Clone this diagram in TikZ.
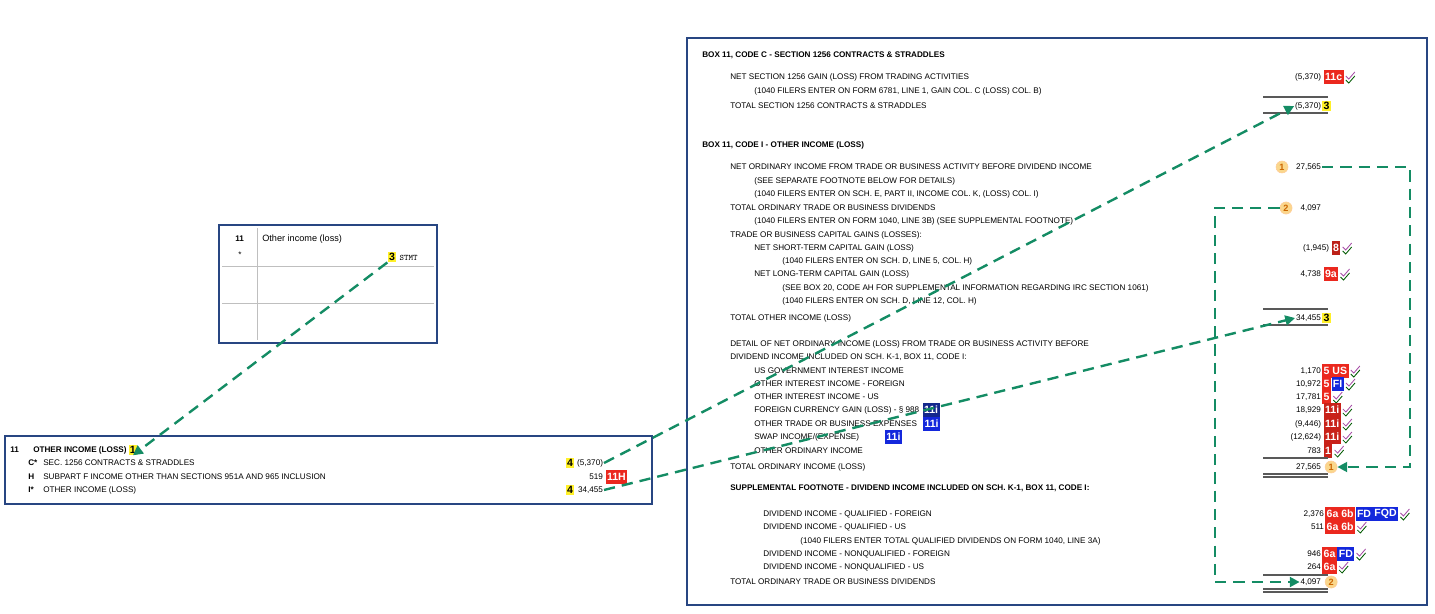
\documentclass[tikz,border=0pt]{standalone}
\usepackage{fontspec}
\setmainfont{Liberation Sans}
\usetikzlibrary{positioning,arrows.meta,calc}
\definecolor{frameblue}{RGB}{40,70,130}
\definecolor{flowgreen}{RGB}{20,140,100}
\definecolor{bred}{RGB}{235,40,30}
\definecolor{bblue}{RGB}{20,40,220}
\definecolor{bnavy}{RGB}{20,40,140}
\definecolor{hiyel}{RGB}{255,240,40}
\definecolor{circ}{RGB}{250,215,140}

\begin{document}
\begin{tikzpicture}[x=0.025cm,y=-0.025cm,
  txt/.style={anchor=west,inner sep=0pt,font=\fontsize{5.8}{6}\selectfont},
  hd/.style={txt,font=\fontsize{5.8}{6}\selectfont\bfseries},
  num/.style={anchor=east,inner sep=0.5pt,font=\fontsize{5.8}{6}\selectfont},
  badge/.style={fill=bred,text=white,inner sep=1pt,minimum height=9.5pt,font=\fontsize{7.5}{7.5}\selectfont\bfseries},
  bbadge/.style={badge,fill=bblue},
  nbadge/.style={badge,fill=bnavy},
  yel/.style={fill=hiyel,inner sep=1pt,font=\fontsize{7.5}{7.5}\selectfont\bfseries},
  rnd/.style={circle,fill=circ,draw=orange!40,text=orange!80!black,inner sep=1pt,font=\fontsize{6.5}{6.5}\selectfont\bfseries},
  flow/.style={flowgreen,line width=1.7pt,dash pattern=on 8pt off 5pt},
  tip/.style={-{Triangle[length=7pt,width=7pt]}},
  ul/.style={gray!70!black,line width=1pt}]
\useasboundingbox (0,0) rectangle (1435,613);
\newcommand\chk[1]{\draw[violet!70,line width=0.6pt] ($(#1)+(2,-1)$) -- ++(3,3) -- ++(6,-7);
  \draw[green!35!black,line width=0.6pt] ($(#1)+(2,3)$) -- ++(3,3) -- ++(6,-7);}

% small form box
\draw[frameblue,line width=1.5pt] (219,225) rectangle (437,343);
\draw[gray!50] (257,228) -- (257,340) (222,266) -- (434,266) (222,303) -- (434,303);
\node[hd] at (235,239) {11};
\node[txt] at (238,255) {*};
\node[txt,font=\fontsize{6.5}{7}\selectfont] at (262,239) {Other income (loss)};
\node[yel] (s3) at (392,257) {3};
\node[anchor=west,inner sep=1pt,font=\fontsize{6}{6}\ttfamily] at (398,258) {STMT};

% K-1 line box
\draw[frameblue,line width=1.5pt] (5,436) rectangle (652,504);
\node[hd] at (10,450) {11};
\node[hd] (oi) at (33,450) {OTHER INCOME (LOSS)};
\node[yel,right=1pt of oi] (k1) {1};
\node[hd] at (28,463) {C*};
\node[txt] at (43,463) {SEC. 1256 CONTRACTS \& STRADDLES};
\node[yel] at (570,463) {4};
\node[num] (kc) at (604,463) {(5,370)};
\node[hd] at (28,477) {H};
\node[txt] at (43,477) {SUBPART F INCOME OTHER THAN SECTIONS 951A AND 965 INCLUSION};
\node[num] (kh) at (604,477) {519};
\node[badge,right=1pt of kh] {11H};
\node[hd] at (28,490) {I*};
\node[txt] at (43,490) {OTHER INCOME (LOSS)};
\node[yel] at (570,490) {4};
\node[num] (ki) at (604,490) {34,455};

% statement box
\draw[frameblue,line width=1.5pt] (687,38) rectangle (1427,605);
\node[hd] at (702,55) {BOX 11, CODE C - SECTION 1256 CONTRACTS \& STRADDLES};
\node[txt] at (730,77) {NET SECTION 1256 GAIN (LOSS) FROM TRADING ACTIVITIES};
\node[txt] at (754,91) {(1040 FILERS ENTER ON FORM 6781, LINE 1, GAIN COL. C (LOSS) COL. B)};
\node[txt] at (730,106) {TOTAL SECTION 1256 CONTRACTS \& STRADDLES};
\node[hd] at (702,145) {BOX 11, CODE I - OTHER INCOME (LOSS)};
\node[txt] at (730,167) {NET ORDINARY INCOME FROM TRADE OR BUSINESS ACTIVITY BEFORE DIVIDEND INCOME};
\node[txt] at (754,181) {(SEE SEPARATE FOOTNOTE BELOW FOR DETAILS)};
\node[txt] at (754,194) {(1040 FILERS ENTER ON SCH. E, PART II, INCOME COL. K, (LOSS) COL. I)};
\node[txt] at (730,208) {TOTAL ORDINARY TRADE OR BUSINESS DIVIDENDS};
\node[txt] at (754,221) {(1040 FILERS ENTER ON FORM 1040, LINE 3B) (SEE SUPPLEMENTAL FOOTNOTE)};
\node[txt] at (730,235) {TRADE OR BUSINESS CAPITAL GAINS (LOSSES):};
\node[txt] at (754,248) {NET SHORT-TERM CAPITAL GAIN (LOSS)};
\node[txt] at (782,261) {(1040 FILERS ENTER ON SCH. D, LINE 5, COL. H)};
\node[txt] at (754,274) {NET LONG-TERM CAPITAL GAIN (LOSS)};
\node[txt] at (782,288) {(SEE BOX 20, CODE AH FOR SUPPLEMENTAL INFORMATION REGARDING IRC SECTION 1061)};
\node[txt] at (782,301) {(1040 FILERS ENTER ON SCH. D, LINE 12, COL. H)};
\node[txt] at (730,318) {TOTAL OTHER INCOME (LOSS)};
\node[txt] at (730,344) {DETAIL OF NET ORDINARY INCOME (LOSS) FROM TRADE OR BUSINESS ACTIVITY BEFORE};
\node[txt] at (730,357) {DIVIDEND INCOME INCLUDED ON SCH. K-1, BOX 11, CODE I:};
\node[txt] at (754,371) {US GOVERNMENT INTEREST INCOME};
\node[txt] at (754,384) {OTHER INTEREST INCOME - FOREIGN};
\node[txt] at (754,397) {OTHER INTEREST INCOME - US};
\node[txt] (fx) at (754,410) {FOREIGN CURRENCY GAIN (LOSS) - \S\ 988};
\node[nbadge,right=2pt of fx] {11i};
\node[txt] (ob) at (754,424) {OTHER TRADE OR BUSINESS EXPENSES};
\node[bbadge,right=4pt of ob] {11i};
\node[txt] (sw) at (754,437) {SWAP INCOME/(EXPENSE)};
\node[bbadge,right=18pt of sw] {11i};
\node[txt] at (754,451) {OTHER ORDINARY INCOME};
\node[txt] at (730,467) {TOTAL ORDINARY INCOME (LOSS)};
\node[hd] at (730,488) {SUPPLEMENTAL FOOTNOTE - DIVIDEND INCOME INCLUDED ON SCH. K-1, BOX 11, CODE I:};
\node[txt] at (763,514) {DIVIDEND INCOME - QUALIFIED - FOREIGN};
\node[txt] at (763,527) {DIVIDEND INCOME - QUALIFIED - US};
\node[txt] at (800,541) {(1040 FILERS ENTER TOTAL QUALIFIED DIVIDENDS ON FORM 1040, LINE 3A)};
\node[txt] at (763,554) {DIVIDEND INCOME - NONQUALIFIED - FOREIGN};
\node[txt] at (763,567) {DIVIDEND INCOME - NONQUALIFIED - US};
\node[txt] at (730,582) {TOTAL ORDINARY TRADE OR BUSINESS DIVIDENDS};

% amounts
\node[num] (a1) at (1322,77) {(5,370)};
\node[badge,right=1pt of a1] (a1b) {11c}; \chk{a1b.east}
\node[num] (t1) at (1322,106) {(5,370)};
\node[yel,right=0pt of t1] {3};
\node[num] (n1) at (1322,167) {27,565};
\node[rnd] (c1) at (1282,167) {1};
\node[num] (n2) at (1322,208) {4,097};
\node[rnd] (c2) at (1286,208) {2};
\node[num] (st) at (1330,248) {(1,945)};
\node[badge,fill=bred!80!black,right=1pt of st] (stb) {8}; \chk{stb.east}
\node[num] (lt) at (1322,274) {4,738};
\node[badge,right=1pt of lt] (ltb) {9a}; \chk{ltb.east}
\node[num] (t2) at (1322,318) {34,455};
\node[yel,right=0pt of t2] {3};
\node[num] (d1) at (1322,371) {1,170};
\node[badge,right=0pt of d1] (d1b) {5 US}; \chk{d1b.east}
\node[num] (d2) at (1322,384) {10,972};
\node[badge,right=0pt of d2] (d2a) {5};
\node[bbadge,right=0pt of d2a] (d2b) {FI}; \chk{d2b.east}
\node[num] (d3) at (1322,397) {17,781};
\node[badge,right=0pt of d3] (d3b) {5}; \chk{d3b.east}
\node[num] (d4) at (1322,410) {18,929};
\node[badge,fill=bred!85!black,right=1pt of d4] (d4b) {11i}; \chk{d4b.east}
\node[num] (d5) at (1322,424) {(9,446)};
\node[badge,fill=bred!85!black,right=1pt of d5] (d5b) {11i}; \chk{d5b.east}
\node[num] (d6) at (1322,437) {(12,624)};
\node[badge,fill=bred!85!black,right=1pt of d6] (d6b) {11i}; \chk{d6b.east}
\node[num] (d7) at (1322,451) {783};
\node[badge,fill=bred!85!black,right=1pt of d7] (d7b) {1}; \chk{d7b.east}
\node[num] (to) at (1322,467) {27,565};
\node[rnd,right=2pt of to] (c1b) {1};
\node[num] (q1) at (1325,514) {2,376};
\node[badge,right=0pt of q1] (q1a) {6a 6b};
\node[bbadge,right=0pt of q1a] (q1c) {FD};
\node[bbadge,right=0pt of q1c] (q1d) {FQD}; \chk{q1d.east}
\node[num] (q2) at (1325,527) {511};
\node[badge,right=0pt of q2] (q2a) {6a 6b}; \chk{q2a.east}
\node[num] (q3) at (1322,554) {946};
\node[badge,right=0pt of q3] (q3a) {6a};
\node[bbadge,right=0pt of q3a] (q3b) {FD}; \chk{q3b.east}
\node[num] (q4) at (1322,567) {264};
\node[badge,right=0pt of q4] (q4a) {6a}; \chk{q4a.east}
\node[num] (tq) at (1322,582) {4,097};
\node[rnd,right=2pt of tq] (c2b) {2};

% rules
\draw[ul] (1263,97) -- (1328,97) (1263,113) -- (1328,113);
\draw[ul] (1263,309) -- (1328,309) (1263,325) -- (1328,325);
\draw[ul] (1263,458) -- (1328,458) (1263,474) -- (1328,474) (1263,477) -- (1328,477);
\draw[ul] (1263,575) -- (1328,575) (1263,589) -- (1328,589) (1263,592) -- (1328,592);

% connectors
\coordinate (r1) at (1410,167);
\coordinate (l2) at (1215,208);
\draw[flow,tip] (s3.south west) -- (k1.south);
\draw[flow,tip] (kc.east) -- (t1.west);
\draw[flow,tip] (ki.east) -- (t2.west);
\draw[flow,tip] (n1.east) -- (r1) |- (c1b.east);
\draw[flow,tip] (c2.west) -- (l2) |- (tq.west);
\end{tikzpicture}
\end{document}
